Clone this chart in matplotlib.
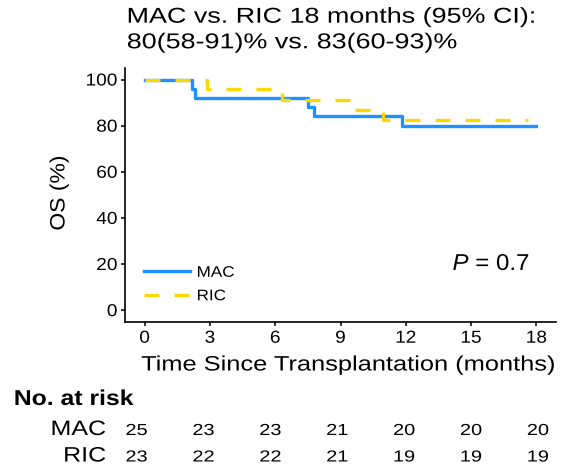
import matplotlib
matplotlib.use("Agg")
import matplotlib.pyplot as plt
from matplotlib.patheffects import AbstractPathEffect
from matplotlib.transforms import Affine2D

plt.rcParams['font.family'] = ['Liberation Sans', 'DejaVu Sans']
plt.rcParams['mathtext.fontset'] = 'custom'
plt.rcParams['mathtext.rm'] = 'Liberation Sans'
plt.rcParams['mathtext.it'] = 'Liberation Sans:italic'

# Data
mac_time = [0, 2.17, 2.33, 7.52, 7.78, 11.81, 18]
mac_surv = [100, 96, 92, 88, 84, 80, 80]
ric_time = [0, 2.86, 6.3, 9.44, 10.96, 17.6]
ric_surv = [100, 95.7, 91.3, 87.0, 82.6, 82.6]
x_ticks = [0, 3, 6, 9, 12, 15, 18]
y_ticks = [0, 20, 40, 60, 80, 100]
groups = ["MAC", "RIC"]
risk_mac = [25, 23, 23, 21, 20, 20, 20]
risk_ric = [23, 22, 22, 21, 19, 19, 19]
title_lines = ["MAC vs. RIC 18 months (95% CI):", "80(58-91)% vs. 83(60-93)%"]
blue = "#1E90FF"
gold = "#FFD700"


class Stretch(AbstractPathEffect):
    """Widen glyphs along the text direction."""
    def __init__(self, sx, anchor='center'):
        super().__init__()
        self.sx = sx
        self.anchor = anchor

    def draw_path(self, renderer, gc, tpath, affine, rgbFace=None):
        ext = tpath.get_extents()
        if self.anchor == 'left':
            c = ext.x0
        elif self.anchor == 'right':
            c = ext.x1
        else:
            c = 0.5 * (ext.x0 + ext.x1)
        tr = Affine2D().translate(-c, 0).scale(self.sx, 1).translate(c, 0) + affine
        renderer.draw_path(gc, tpath, tr, rgbFace)


W, H = 566, 472
fig = plt.figure(figsize=(W / 100, H / 100), dpi=100)


def fy(p):
    return 1 - p / H


ax = fig.add_axes([125 / W, fy(321.7), (556 - 125) / W, (321.7 - 68) / H])

ax.step(mac_time, mac_surv, where='post', color=blue, lw=2.4, label=groups[0])
ax.step(ric_time, ric_surv, where='post', color=gold, lw=2.4, dashes=(4.5, 4.5), label=groups[1])

ax.set_xlim(-0.9, 18.9)
ax.set_ylim(-5, 105)
ax.set_xticks(x_ticks)
ax.set_yticks(y_ticks)
ax.tick_params(labelsize=12.5, length=3, width=1.1, color='black', pad=2.5)
ax.tick_params(axis='x', pad=3.5)
for s in ['top', 'right']:
    ax.spines[s].set_visible(False)
for s in ['left', 'bottom']:
    ax.spines[s].set_linewidth(1.2)

leg = ax.legend(loc='center left', bbox_to_anchor=((144 - 125) / 431, (321.7 - 284.5) / 253.7),
                frameon=False, fontsize=11, handlelength=3.0, handletextpad=0.45,
                labelspacing=0.62, borderpad=0, borderaxespad=0)
for t in leg.get_texts():
    t.set_path_effects([Stretch(1.12, 'left')])

ax.text((530 - 125) / 431, (321.7 - 263.5) / 253.7, r"$\it{P}$ = 0.7", transform=ax.transAxes,
        ha='right', va='center', fontsize=16.5, path_effects=[Stretch(1.05, 'right')])

fig.canvas.draw()
for lbl in ax.get_xticklabels():
    lbl.set_path_effects([Stretch(1.1, 'center')])
for lbl in ax.get_yticklabels():
    lbl.set_path_effects([Stretch(1.1, 'right')])

# title
fig.text(127 / W, fy(22.7), title_lines[0], ha='left', va='baseline', fontsize=15.5,
         path_effects=[Stretch(1.25, 'left')])
fig.text(127 / W, fy(48.3), title_lines[1], ha='left', va='baseline', fontsize=15.5,
         path_effects=[Stretch(1.25, 'left')])

# axis titles
fig.text(349 / W, fy(370.5), "Time Since Transplantation (months)", ha='center', va='baseline',
         fontsize=15, path_effects=[Stretch(1.22, 'center')])
fig.text(59 / W, fy(193), "OS (%)", ha='center', va='center', rotation=90,
         fontsize=15, path_effects=[Stretch(1.1, 'center')])

# risk table
fig.text(14 / W, fy(405), "No. at risk", ha='left', va='baseline', fontsize=15.5,
         fontweight='bold', path_effects=[Stretch(1.15, 'left')])
row_base = [435, 461.5]
col0, col_step = 136.5, 22.3
for name, vals, yb in zip(groups, [risk_mac, risk_ric], row_base):
    fig.text(106 / W, fy(yb), name, ha='right', va='baseline', fontsize=15,
             path_effects=[Stretch(1.2, 'right')])
    for t, v in zip(x_ticks, vals):
        fig.text((col0 + t * col_step) / W, fy(yb), str(v), ha='center', va='baseline',
                 fontsize=11.5, path_effects=[Stretch(1.25, 'center')])

fig.savefig("out.png", dpi=100)
